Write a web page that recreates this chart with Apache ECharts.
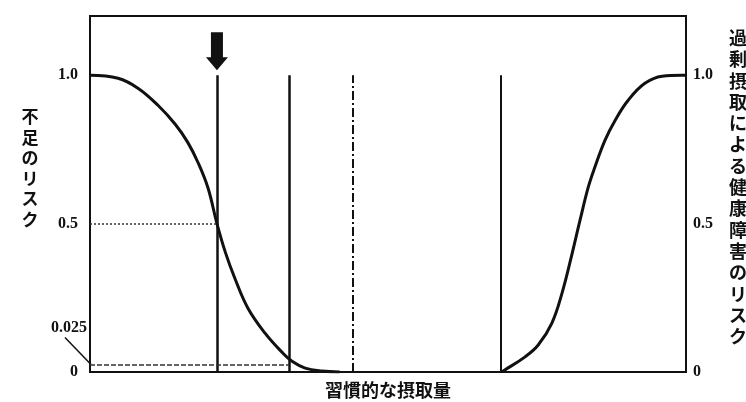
<!DOCTYPE html>
<html>
<head>
<meta charset="utf-8">
<script src="https://cdn.jsdelivr.net/npm/echarts@6/dist/echarts.min.js"></script>
<style>
  html, body { margin: 0; padding: 0; background: #fff; }
  #chart { width: 746px; height: 402px; }
</style>
</head>
<body>
<div id="chart"></div>
<script>
// 不足のリスク（左の曲線）: [摂取量, リスク]
var deficitCurve = [
  [0, 1.0], [4.7, 0.99], [8.1, 0.956], [11.4, 0.899], [14.3, 0.835],
  [16.4, 0.774], [18.1, 0.707], [19.8, 0.62], [21.3, 0.5], [22.7, 0.404],
  [24.3, 0.316], [26.5, 0.215], [29.4, 0.130], [32.2, 0.067], [33.9, 0.036],
  [36.1, 0.013], [38.9, 0.003], [41.9, 0]
];
// 過剰摂取による健康障害のリスク（右の曲線）
var excessCurve = [
  [69.0, 0], [69.6, 0.007], [73.0, 0.051], [75.2, 0.091], [77.5, 0.165],
  [79.2, 0.266], [80.9, 0.40], [82.2, 0.51], [83.6, 0.623], [84.7, 0.69],
  [86.4, 0.781], [88.1, 0.848], [90.3, 0.916], [93.1, 0.973], [96.0, 0.997],
  [99.3, 1.0], [100, 1.0]
];
// 縦線の位置（摂取量）
var refLines = [21.3, 33.4, 44.1, 69.0];
var lowLevel = 0.025;
var midLevel = 0.5;
var tickValues = [0, 0.5, 1.0];

var numFont = 'Liberation Serif';
var jpFont = 'Noto Sans CJK JP';

var myChart = echarts.init(document.getElementById('chart'));

function vline(x, type, width) {
  return [
    { coord: [x, 0], lineStyle: { type: type, width: width, color: '#111' } },
    { coord: [x, 1.0] }
  ];
}

var option = {
  backgroundColor: '#fff',
  animation: false,
  grid: {
    left: 90, right: 60, top: 16, bottom: 30, outerBoundsMode: 'none',
    show: true, borderColor: '#111', borderWidth: 2, backgroundColor: 'transparent'
  },
  xAxis: {
    type: 'value', min: 0, max: 100,
    axisLine: { show: false }, axisTick: { show: false },
    axisLabel: { show: false }, splitLine: { show: false },
    name: '習慣的な摂取量', nameLocation: 'middle', nameGap: 9,
    nameTextStyle: { fontFamily: jpFont, fontWeight: 'bold', fontSize: 18, color: '#111' }
  },
  yAxis: [{
    type: 'value', min: 0, max: 1.2, position: 'left',
    axisLine: { show: false }, axisTick: { show: false }, splitLine: { show: false },
    axisLabel: {
      customValues: tickValues, margin: 12,
      fontFamily: numFont, fontWeight: 'bold', fontSize: 16, color: '#111',
      formatter: function (v) { return v === 0 ? '0' : v.toFixed(1); }
    }
  }, {
    type: 'value', min: 0, max: 1.2, position: 'right',
    axisLine: { show: false }, axisTick: { show: false }, splitLine: { show: false },
    axisLabel: {
      customValues: tickValues, margin: 7,
      fontFamily: numFont, fontWeight: 'bold', fontSize: 16, color: '#111',
      formatter: function (v) { return v === 0 ? '0' : v.toFixed(1); }
    }
  }],
  series: [{
    type: 'line', data: deficitCurve, smooth: 0.4,
    showSymbol: false, silent: true,
    lineStyle: { color: '#111', width: 3 },
    markLine: {
      silent: true, symbol: 'none', label: { show: false },
      data: [
        vline(refLines[0], 'solid', 2.5),
        vline(refLines[1], 'solid', 2.5),
        vline(refLines[2], [9, 3, 2, 3], 2),
        vline(refLines[3], 'solid', 2),
        [{ coord: [0, midLevel], lineStyle: { type: [2, 2], width: 1.5, color: '#333' } },
         { coord: [refLines[0], midLevel] }],
        [{ coord: [0, lowLevel], lineStyle: { type: [5, 2], width: 1.5, color: '#333' } },
         { coord: [refLines[1], lowLevel] }]
      ]
    }
  }, {
    type: 'line', data: excessCurve, smooth: 0.4,
    showSymbol: false, silent: true,
    lineStyle: { color: '#111', width: 3 }
  }, {
    // 推定平均必要量を指す矢印
    type: 'scatter', silent: true,
    data: [[refLines[0], 1.081]],
    symbol: 'path://M5,0 L17,0 L17,25 L22,25 L11,38 L0,25 L5,25 Z',
    symbolSize: [22, 38],
    itemStyle: { color: '#111', opacity: 1 }
  }]
};

myChart.setOption(option);

// 0.025 のラベルと引き出し線、縦書きの軸名
var p = myChart.convertToPixel({ xAxisIndex: 0, yAxisIndex: 0 }, [0, lowLevel]);
var leftMid = myChart.convertToPixel({ xAxisIndex: 0, yAxisIndex: 0 }, [0, 0.687]);
var rightMid = myChart.convertToPixel({ xAxisIndex: 0, yAxisIndex: 1 }, [100, 0.623]);
myChart.setOption({
  graphic: [{
    type: 'text', silent: true,
    x: p[0] - 3, y: p[1] - 37,
    style: {
      text: '0.025', fill: '#111', font: 'bold 16px "Liberation Serif"',
      align: 'right', verticalAlign: 'middle'
    }
  }, {
    type: 'line', silent: true,
    shape: { x1: p[0] - 25, y1: p[1] - 27, x2: p[0] + 1, y2: p[1] },
    style: { stroke: '#111', lineWidth: 1.5 }
  }, {
    type: 'text', silent: true,
    x: leftMid[0] - 60, y: leftMid[1],
    style: {
      text: '不足のリスク'.split('').join('\n'), fill: '#111',
      font: 'bold 17px "' + jpFont + '"', lineHeight: 20.5,
      align: 'center', verticalAlign: 'middle'
    }
  }, {
    type: 'text', silent: true,
    x: rightMid[0] + 52, y: rightMid[1],
    style: {
      text: '過剰摂取による健康障害のリスク'.split('').join('\n'), fill: '#111',
      font: 'bold 18px "' + jpFont + '"', lineHeight: 21.3,
      align: 'center', verticalAlign: 'middle'
    }
  }]
});

window.onresize = function () {
  myChart.resize();
};
</script>
</body>
</html>
